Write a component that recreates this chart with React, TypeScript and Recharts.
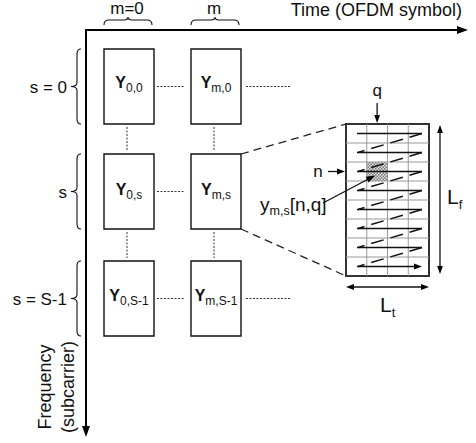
import React from "react"
import { ComposedChart, XAxis, YAxis, ReferenceArea, ReferenceLine, Scatter } from "recharts"

const W = 476
const H = 443
const FONT = '"Liberation Sans", Arial, Helvetica, sans-serif'

// block indices along time (columns) and frequency (rows)
const colIndex = ["0", "m"]
const rowIndex = ["0", "s", "S-1"]
const colTags = ["m=0", "m"]
const rowTags = ["s = 0", "s", "s = S-1"]

// zoomed block: L_f rows x L_t columns, highlighted element [n, q]
const blockRows = 8
const blockCols = 4
const pickRow = 2
const pickCol = 1

// layout, in chart units (1 unit == 1px)
const colX = [104, 191]
const rowY = [49, 154, 261]
const boxW = 50
const boxH = 75
const zb = { x0: 346, x1: 429, y0: 124, y1: 276 }
const cellW = (zb.x1 - zb.x0) / blockCols
const cellH = (zb.y1 - zb.y0) / blockRows

type Seg = {
  x1: number; y1: number; x2: number; y2: number
  color: string; w: number; dash?: string; head?: "end" | "both"; hs?: number
}

const segs: Seg[] = []
// axes
segs.push({ x1: 85, y1: 30, x2: 468, y2: 30, color: "#000", w: 2, head: "end", hs: 11 })
segs.push({ x1: 86, y1: 29, x2: 86, y2: 437, color: "#000", w: 2, head: "end", hs: 11 })

// dotted connectors between blocks
rowY.forEach((ry, r) => {
  const cy = ry + boxH / 2
  segs.push({ x1: colX[0] + boxW + 3, y1: cy, x2: colX[1] - 6, y2: cy, color: "#333", w: 1, dash: "2 1.5" })
  if (r !== 1) segs.push({ x1: colX[1] + boxW + 5, y1: cy, x2: 290, y2: cy, color: "#333", w: 1, dash: "2 1.5" })
  if (r < rowY.length - 1) {
    colX.forEach((cx) => {
      segs.push({ x1: cx + boxW / 2 - 2, y1: ry + boxH + 3, x2: cx + boxW / 2 - 2, y2: rowY[r + 1] - 3, color: "#333", w: 1, dash: "2 1.5" })
    })
  }
})

// zoom guide lines from Y_{m,s}
segs.push({ x1: colX[1] + boxW, y1: rowY[1], x2: zb.x0, y2: zb.y0, color: "#222", w: 1.3, dash: "8 5" })
segs.push({ x1: colX[1] + boxW, y1: rowY[1] + boxH, x2: zb.x0, y2: zb.y1, color: "#222", w: 1.3, dash: "8 5" })

// inner grid of the zoomed block
for (let j = 1; j < blockCols; j++) {
  segs.push({ x1: zb.x0 + j * cellW, y1: zb.y0, x2: zb.x0 + j * cellW, y2: zb.y1, color: "#999", w: 1 })
}
for (let i = 1; i < blockRows; i++) {
  segs.push({ x1: zb.x0, y1: zb.y0 + i * cellH, x2: zb.x1, y2: zb.y0 + i * cellH, color: "#999", w: 1 })
}

// raster scan path
for (let i = 0; i < blockRows; i++) {
  const yc = zb.y0 + (i + 0.5) * cellH
  const last = i === blockRows - 1
  segs.push({ x1: 357, y1: yc, x2: 422, y2: yc, color: "#111", w: 1.5, head: last ? "end" : undefined, hs: 8 })
  if (!last) segs.push({ x1: 422, y1: yc, x2: 358, y2: yc + cellH, color: "#111", w: 1.5, dash: "13 7" })
}

// pointers and dimension arrows
const qx = zb.x0 + (pickCol + 0.5) * cellW
const ny = zb.y0 + (pickRow + 0.5) * cellH
segs.push({ x1: qx, y1: 103, x2: qx, y2: zb.y0 - 1, color: "#111", w: 1.3, head: "end", hs: 8 })
segs.push({ x1: 328, y1: ny, x2: zb.x0 - 1, y2: ny, color: "#111", w: 1.3, head: "end", hs: 8 })
segs.push({ x1: 323, y1: 203, x2: qx - 2, y2: ny + 4, color: "#111", w: 1.3, head: "end", hs: 9 })
segs.push({ x1: 440, y1: zb.y0 + 1, x2: 440, y2: zb.y1 - 2, color: "#111", w: 1.3, head: "both", hs: 8 })
segs.push({ x1: zb.x0, y1: 287, x2: zb.x1, y2: 287, color: "#111", w: 1.3, head: "both", hs: 8 })

// arrowheads derived from the segments
const heads: { x: number; y: number; angle: number; hs: number }[] = []
const drawn = segs.map((s) => {
  const len = Math.hypot(s.x2 - s.x1, s.y2 - s.y1)
  const ux = (s.x2 - s.x1) / len
  const uy = (s.y2 - s.y1) / len
  const ang = (Math.atan2(uy, ux) * 180) / Math.PI
  const cut = (s.hs || 0) * 0.6
  let { x1, y1, x2, y2 } = s
  if (s.head) {
    heads.push({ x: s.x2, y: s.y2, angle: ang, hs: s.hs || 8 })
    x2 -= ux * cut
    y2 -= uy * cut
  }
  if (s.head === "both") {
    heads.push({ x: s.x1, y: s.y1, angle: ang + 180, hs: s.hs || 8 })
    x1 += ux * cut
    y1 += uy * cut
  }
  return { ...s, x1, y1, x2, y2 }
})

// braces
type Brace = { x: number; y: number; a: number; b: number; side: "top" | "left" }
const braces: Brace[] = [
  ...colX.map((cx) => ({ x: cx + 24, y: 25, a: cx, b: cx + 48, side: "top" as const })),
  ...rowY.map((ry) => ({ x: 81, y: ry + boxH / 2, a: ry, b: ry + boxH, side: "left" as const })),
]

// text (rotated labels: x is the baseline, y the centre along the text)
type Lbl = {
  x: number; y: number; main: string; sub?: string; tail?: string
  size: number; subSize?: number; anchor?: string; bold?: boolean; rotate?: boolean
}
const boxBase = [88, 195, 301]
const labels: Lbl[] = [
  { x: 462, y: 16, main: "Time (OFDM symbol)", size: 18, anchor: "end" },
  ...colTags.map((t, c) => ({ x: colX[c] + 23, y: 14, main: t, size: 17, anchor: "middle" })),
  ...rowTags.map((t, r) => ({ x: 67, y: rowY[r] + boxH / 2 + 6, main: t, size: 17, anchor: "end" })),
  ...rowIndex.flatMap((ri, r) =>
    colIndex.map((ci, c) => ({
      x: colX[c] + boxW / 2, y: boxBase[r], main: "Y", sub: `${ci},${ri}`,
      size: 16, subSize: 12, anchor: "middle", bold: true,
    }))
  ),
  { x: qx, y: 96, main: "q", size: 17, anchor: "middle" },
  { x: 318, y: ny + 5, main: "n", size: 17, anchor: "middle" },
  { x: 260, y: 211, main: "y", sub: "m,s", tail: "[n,q]", size: 19, subSize: 12.5, anchor: "start" },
  { x: 447, y: 204, main: "L", sub: "f", size: 21, subSize: 13, anchor: "start" },
  { x: 380, y: 312, main: "L", sub: "t", size: 21, subSize: 13, anchor: "start" },
  { x: 51, y: 387, main: "Frequency", size: 18, anchor: "middle", rotate: true },
  { x: 74, y: 387, main: "(subcarrier)", size: 18, anchor: "middle", rotate: true },
]

const LabelShape = (props: any) => {
  const { cx, cy, payload: p } = props
  const dy = p.sub ? p.size * 0.22 : 0
  return (
    <text
      x={cx}
      y={cy}
      textAnchor={p.anchor}
      fontFamily={FONT}
      fontSize={p.size}
      fill="#111"
      transform={p.rotate ? `rotate(-90 ${cx} ${cy})` : undefined}
    >
      <tspan fontWeight={p.bold ? "bold" : "normal"}>{p.main}</tspan>
      {p.sub && <tspan dy={dy} fontSize={p.subSize}>{p.sub}</tspan>}
      {p.tail && <tspan dy={-dy} fontSize={p.size}>{p.tail}</tspan>}
    </text>
  )
}

const HeadShape = (props: any) => {
  const { cx, cy, payload: p } = props
  const h = p.hs
  return (
    <polygon
      points={`0,0 ${-h},${-h * 0.36} ${-h},${h * 0.36}`}
      transform={`translate(${cx},${cy}) rotate(${p.angle})`}
      fill="#000"
    />
  )
}

const BraceShape = (props: any) => {
  const { payload: p } = props
  let d = ""
  if (p.side === "top") {
    const yb = p.y, yf = yb - 5, yt = yb - 8, m = (p.a + p.b) / 2
    d = `M${p.a},${yb} Q${p.a},${yf} ${p.a + 5},${yf} L${m - 4},${yf} Q${m},${yf} ${m},${yt} Q${m},${yf} ${m + 4},${yf} L${p.b - 5},${yf} Q${p.b},${yf} ${p.b},${yb}`
  } else {
    const xr = p.x, xf = xr - 4, xt = xr - 10, m = (p.a + p.b) / 2
    d = `M${xr},${p.a} Q${xf},${p.a} ${xf},${p.a + 5} L${xf},${m - 4} Q${xf},${m} ${xt},${m} Q${xf},${m} ${xf},${m + 4} L${xf},${p.b - 5} Q${xf},${p.b} ${xr},${p.b}`
  }
  return <path d={d} fill="none" stroke="#111" strokeWidth={1.1} />
}

const CheckerCell = (props: any) => {
  const { x, y, width, height } = props
  return (
    <g>
      <defs>
        <pattern id="chk" width="3" height="3" patternUnits="userSpaceOnUse">
          <rect width="3" height="3" fill="#e6e6e6" />
          <rect width="1.5" height="1.5" fill="#777" />
          <rect x="1.5" y="1.5" width="1.5" height="1.5" fill="#777" />
        </pattern>
      </defs>
      <rect x={x} y={y} width={width} height={height} fill="url(#chk)" />
    </g>
  )
}

export default function App() {
  return (
    <div style={{ position: "absolute", left: 0, top: 0, background: "#fff" }}>
      <ComposedChart width={W} height={H} margin={{ top: 0, right: 0, bottom: 0, left: 0 }}>
        <XAxis type="number" dataKey="x" domain={[0, W]} allowDataOverflow hide />
        <YAxis type="number" dataKey="y" domain={[0, H]} allowDataOverflow reversed hide />

        {rowY.flatMap((ry, r) =>
          colX.map((cx, c) => (
            <ReferenceArea
              key={`b${r}${c}`}
              x1={cx} x2={cx + boxW} y1={ry} y2={ry + boxH}
              fill="#fff" fillOpacity={1} stroke="#111" strokeWidth={1.4}
              ifOverflow="visible"
            />
          ))
        )}

        <ReferenceArea x1={zb.x0} x2={zb.x1} y1={zb.y0} y2={zb.y1} fill="#fff" fillOpacity={1} stroke="#333" strokeWidth={2} ifOverflow="visible" />
        <ReferenceArea
          x1={zb.x0 + pickCol * cellW} x2={zb.x0 + (pickCol + 1) * cellW}
          y1={zb.y0 + pickRow * cellH} y2={zb.y0 + (pickRow + 1) * cellH}
          shape={CheckerCell}
          ifOverflow="visible"
        />

        {drawn.map((s, i) => (
          <ReferenceLine
            key={`l${i}`}
            segment={[{ x: s.x1, y: s.y1 }, { x: s.x2, y: s.y2 }]}
            stroke={s.color}
            strokeWidth={s.w}
            strokeDasharray={s.dash}
            ifOverflow="visible"
          />
        ))}

        <Scatter data={heads} dataKey="y" shape={HeadShape} isAnimationActive={false} />
        <Scatter data={braces} dataKey="y" shape={BraceShape} isAnimationActive={false} />
        <Scatter data={labels} dataKey="y" shape={LabelShape} isAnimationActive={false} />
      </ComposedChart>
    </div>
  )
}
